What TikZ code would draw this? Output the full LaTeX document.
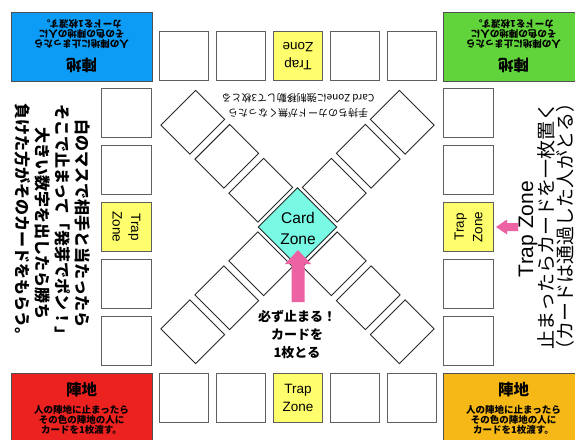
\documentclass[tikz,border=0pt]{standalone}
\usepackage{fontspec}
\setmainfont{Liberation Sans}
\newfontfamily\cjk{Noto Sans CJK JP}
\usetikzlibrary{shapes.geometric}
\definecolor{bluec}{RGB}{12,156,245}
\definecolor{greenc}{RGB}{96,212,58}
\definecolor{redc}{RGB}{236,34,32}
\definecolor{orangec}{RGB}{246,184,22}
\definecolor{trapy}{RGB}{255,255,110}
\definecolor{cardc}{RGB}{120,250,228}
\definecolor{pinkc}{RGB}{236,98,163}
\definecolor{cellgray}{RGB}{95,95,95}
\definecolor{diaggray}{RGB}{40,40,40}
\definecolor{cornergray}{RGB}{80,80,80}
\begin{document}
\begin{tikzpicture}[x=1pt,y=-1pt,
  cell/.style={draw=cellgray,line width=1.3pt,fill=white,minimum size=49.5pt,inner sep=0pt,outer sep=0pt},
  trapcell/.style={cell,fill=trapy,align=center,font=\fontsize{13.5}{18.5}\selectfont},
  diagcell/.style={draw=diaggray,line width=0.9pt,fill=white,minimum width=41pt,minimum height=49pt,inner sep=0pt},
  corner/.style={draw=cornergray,line width=1pt,minimum width=141pt,minimum height=69pt,inner sep=0pt},
  jtitle/.style={font=\cjk\bfseries\fontsize{15.5}{16}\selectfont,inner sep=0pt},
  jbody/.style={font=\cjk\bfseries\fontsize{9.5}{10}\selectfont,align=center,inner sep=0pt},
  arrowfill/.style={fill=pinkc,draw=none}
]
\useasboundingbox (0,0) rectangle (575,439);
\clip (0,0) rectangle (575,439);
\fill[white] (0,0) rectangle (575,439);

% corners
\node[corner,fill=bluec] (cblue) at (81.5,46.5) {};
\node[corner,fill=greenc] (cgreen) at (513.5,46.5) {};
\node[corner,fill=redc] (cred) at (81.5,407.5) {};
\node[corner,fill=orangec] (corange) at (513.5,407.5) {};

\node[jtitle,rotate=180] (tblue) at (81.5,65) {陣地};
\node[jbody,rotate=180] (bblue) at (81.5,34.5) {人の陣地に止まったら\\その色の陣地の人に\\カードを1枚渡す。};
\node[jtitle,rotate=180] (tgreen) at (513.5,65) {陣地};
\node[jbody,rotate=180] (bgreen) at (513.5,34.5) {人の陣地に止まったら\\その色の陣地の人に\\カードを1枚渡す。};
\node[jtitle] (tred) at (81.5,390) {陣地};
\node[jbody] (bred) at (81.5,420) {人の陣地に止まったら\\その色の陣地の人に\\カードを1枚渡す。};
\node[jtitle] (torange) at (513.5,390) {陣地};
\node[jbody] (borange) at (513.5,420) {人の陣地に止まったら\\その色の陣地の人に\\カードを1枚渡す。};

% top row
\node[cell] (t1) at (184,56) {};
\node[cell] (t2) at (241,56) {};
\node[trapcell,rotate=180] (t3) at (298,56) {Trap\\Zone};
\node[cell] (t4) at (355,56) {};
\node[cell] (t5) at (412,56) {};
% bottom row
\node[cell] (b1) at (184,398) {};
\node[cell] (b2) at (241,398) {};
\node[trapcell] (b3) at (298,398) {Trap\\Zone};
\node[cell] (b4) at (355,398) {};
\node[cell] (b5) at (412,398) {};
% left column
\node[cell] (l1) at (126.5,113) {};
\node[cell] (l2) at (126.5,170) {};
\node[trapcell,rotate=-90] (l3) at (126.5,227) {Trap\\Zone};
\node[cell] (l4) at (126.5,284) {};
\node[cell] (l5) at (126.5,341) {};
% right column
\node[cell] (r1) at (468.5,113) {};
\node[cell] (r2) at (468.5,170) {};
\node[trapcell,rotate=90] (r3) at (468.5,227) {Trap\\Zone};
\node[cell] (r4) at (468.5,284) {};
\node[cell] (r5) at (468.5,341) {};

% diagonal cells
\node[diagcell,rotate=-45] (dtl1) at (260.7,190.2) {};
\node[diagcell,rotate=-45] (dtl2) at (226.8,156.3) {};
\node[diagcell,rotate=-45] (dtl3) at (192.8,122.3) {};
\node[diagcell,rotate=45] (dtr1) at (334.3,190.2) {};
\node[diagcell,rotate=45] (dtr2) at (368.2,156.3) {};
\node[diagcell,rotate=45] (dtr3) at (402.2,122.3) {};
\node[diagcell,rotate=45] (dbl1) at (260.7,263.8) {};
\node[diagcell,rotate=45] (dbl2) at (226.8,297.7) {};
\node[diagcell,rotate=45] (dbl3) at (192.8,331.7) {};
\node[diagcell,rotate=-45] (dbr1) at (334.3,263.8) {};
\node[diagcell,rotate=-45] (dbr2) at (368.2,297.7) {};
\node[diagcell,rotate=-45] (dbr3) at (402.2,331.7) {};

% card zone
\node[diamond,draw=diaggray,line width=0.9pt,fill=cardc,minimum width=79pt,minimum height=79pt,inner sep=0pt] (card) at (297.5,227) {};
\node[align=center,font=\fontsize{15.5}{21}\selectfont,inner sep=0pt] (cardtxt) at (298,228) {Card\\Zone};

% pink arrows
\fill[arrowfill] (291.5,302) -- (291.5,264) -- (285,264) -- (298,250) -- (311,264) -- (304.5,264) -- (304.5,302) -- cycle;
\fill[arrowfill] (518,223) -- (507,223) -- (507,219.5) -- (496,227) -- (507,234.5) -- (507,231) -- (518,231) -- cycle;

% texts
\node[align=center,font=\cjk\bfseries\fontsize{13}{18}\selectfont,inner sep=0pt] (mustxt) at (297,335) {必ず止まる！\\カードを\\1枚とる};
\node[align=center,rotate=180,font=\cjk\fontsize{10}{15}\selectfont,inner sep=0pt] (toptxt) at (298,105.5) {手持ちのカードが無くなったら\\Card Zoneに強制移動して3枚とる};
\node[align=center,rotate=-90,font=\cjk\bfseries\fontsize{16}{19.7}\selectfont,inner sep=0pt] (lefttxt) at (52.5,223.5) {白のマスで相手と当たったら\\そこで止まって「発芽でポン！」\\大きい数字を出したら勝ち\\負けた方がそのカードをもらう。};
\node[rotate=90,font=\fontsize{21}{21}\selectfont,inner sep=0pt] (rtitle) at (528,229) {Trap Zone};
\node[align=center,rotate=90,font=\cjk\fontsize{19}{19}\selectfont,inner sep=0pt] (rtxt) at (556,226) {止まったらカードを一枚置く\\（カードは通過した人がとる）};
\end{tikzpicture}
\end{document}
